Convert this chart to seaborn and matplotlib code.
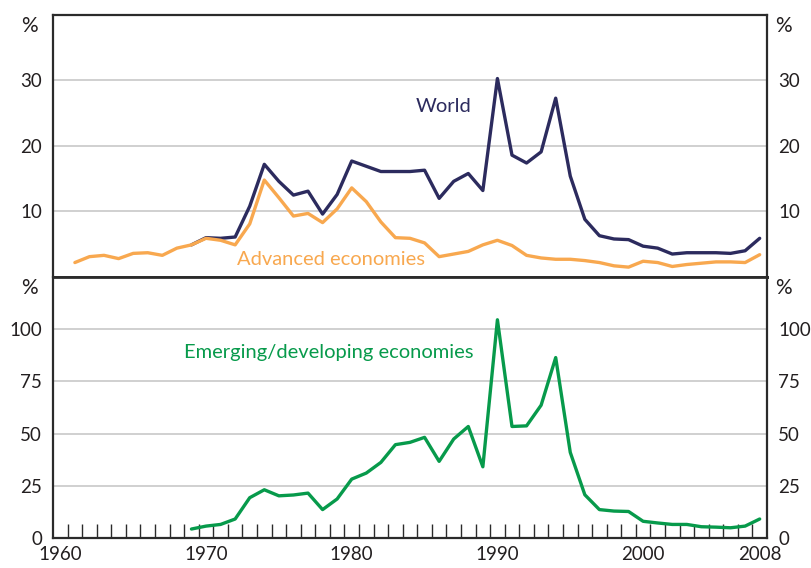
import pandas as pd
import matplotlib.pyplot as plt
import matplotlib.ticker as mticker
import seaborn as sns

# inflation, % per year
adv_years = list(range(1961, 2009))
advanced = [2.2, 3.1, 3.3, 2.8, 3.6, 3.7, 3.3, 4.4, 4.9,
            5.9, 5.6, 4.9, 8.1, 14.8, 12.1, 9.3, 9.7, 8.3, 10.4,
            13.6, 11.5, 8.4, 6.0, 5.9, 5.2, 3.1, 3.5, 3.9, 4.9,
            5.6, 4.8, 3.3, 2.9, 2.7, 2.7, 2.5, 2.2, 1.7, 1.5,
            2.4, 2.2, 1.6, 1.9, 2.1, 2.3, 2.3, 2.2, 3.4]

years = list(range(1969, 2009))
world = [4.9, 6.0, 5.9, 6.1, 10.8, 17.2, 14.6, 12.5, 13.1, 9.6, 12.6,
         17.7, 16.9, 16.1, 16.1, 16.1, 16.3, 12.0, 14.6, 15.8, 13.2,
         30.3, 18.6, 17.4, 19.1, 27.3, 15.4, 8.8, 6.3, 5.8, 5.7,
         4.7, 4.4, 3.5, 3.7, 3.7, 3.7, 3.6, 4.0, 5.9]
emerging = [4.3, 5.7, 6.5, 9.1, 19.3, 23.1, 20.2, 20.6, 21.5, 13.6, 18.7,
            28.2, 31.1, 36.2, 44.7, 45.8, 48.2, 36.7, 47.4, 53.4, 34.1,
            104.5, 53.4, 53.7, 63.6, 86.4, 41.0, 20.7, 13.6, 12.9, 12.7,
            8.0, 7.2, 6.5, 6.5, 5.4, 5.2, 4.9, 5.7, 9.1]

top_ticks = [10, 20, 30]
bottom_ticks = [0, 25, 50, 75, 100]
x_label_years = [1960, 1970, 1980, 1990, 2000, 2008]

NAVY = '#2c2b5e'
ORANGE = '#f8a84f'
GREEN = '#079a4b'
SPINE = '#2b2b2b'
GRID = '#c8c8c8'
TXT = '#231f20'

sns.set_style('white')
plt.rcParams['font.family'] = ['Lato', 'DejaVu Sans']

df_adv = pd.DataFrame({'year': adv_years, 'value': advanced})
df_top = pd.DataFrame({'year': years, 'world': world, 'emerging': emerging})

fig = plt.figure(figsize=(8.11, 5.68), dpi=100)
ax1 = fig.add_axes([0.0654, 0.5124, 0.8803, 0.4612])
ax2 = fig.add_axes([0.0654, 0.0528, 0.8803, 0.4596])

sns.lineplot(data=df_top, x='year', y='world', ax=ax1, color=NAVY, lw=2.4)
sns.lineplot(data=df_adv, x='year', y='value', ax=ax1, color=ORANGE, lw=2.4)
sns.lineplot(data=df_top, x='year', y='emerging', ax=ax2, color=GREEN, lw=2.4)

ax1.set_ylim(0, 40)
ax2.set_ylim(0, 125)
for ax, ticks in [(ax1, top_ticks), (ax2, bottom_ticks)]:
    ax.set_xlim(1959.5, 2008.5)
    ax.set_xlabel('')
    ax.set_ylabel('')
    ax.set_yticks(ticks)
    ax.set_yticklabels([str(t) for t in ticks])
    for t in ticks:
        if t > 0:
            ax.axhline(t, color=GRID, lw=1.2, zorder=0)
    ax.tick_params(axis='y', length=0, labelsize=13.5, labelcolor=TXT,
                   labelleft=True, labelright=True, pad=8)
    for s in ax.spines.values():
        s.set_color(SPINE)
        s.set_linewidth(1.6)
        s.set_visible(True)
    ax.text(-0.021, 0.995, '%', transform=ax.transAxes, ha='right', va='top',
            fontsize=15, color=TXT)
    ax.text(1.012, 0.995, '%', transform=ax.transAxes, ha='left', va='top',
            fontsize=15, color=TXT)

ax1.set_xticks([])
ax1.spines['bottom'].set_linewidth(2.0)
ax2.spines['top'].set_linewidth(2.0)

ax2.set_xticks(x_label_years)
ax2.set_xticklabels([str(y) for y in x_label_years])
ax2.xaxis.set_minor_locator(mticker.FixedLocator([y + 0.5 for y in range(1960, 2008)]))
ax2.tick_params(axis='x', which='major', length=0, labelsize=13.5,
                labelcolor=TXT, pad=6)
ax2.tick_params(axis='x', which='minor', direction='in', length=10,
                width=1.0, color=SPINE, bottom=True)

ax1.text(1986.3, 26.1, 'World', color=NAVY, fontsize=14.5, ha='center', va='center')
ax1.text(1978.6, 2.7, 'Advanced economies', color=ORANGE, fontsize=14.5,
         ha='center', va='center')
ax2.text(1978.4, 88.8, 'Emerging/developing economies', color=GREEN,
         fontsize=14.5, ha='center', va='center')

fig.savefig('out.png', dpi=100)
